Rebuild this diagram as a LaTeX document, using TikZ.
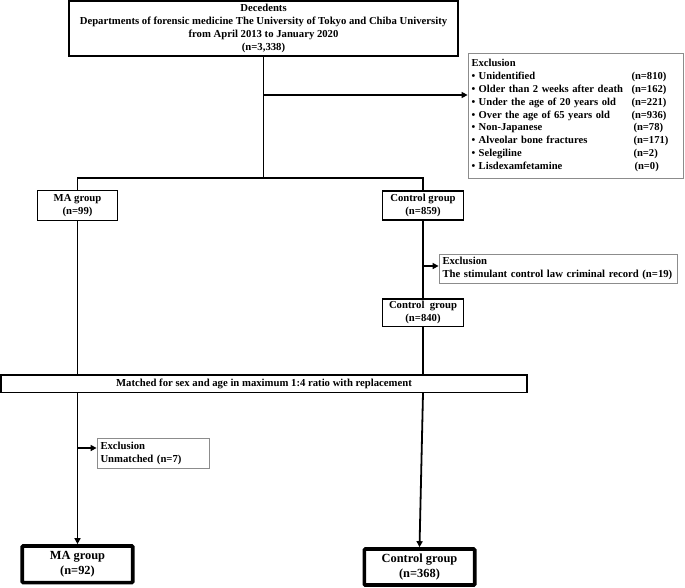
\documentclass[tikz,border=0pt]{standalone}
\usepackage{fontspec}
\setmainfont{Liberation Serif}
\usetikzlibrary{arrows.meta}
\tikzset{
  base/.style={rectangle, inner sep=0pt, font=\bfseries\fontsize{10.7}{13}\selectfont},
  mainbox/.style={base, draw=black, line width=1.3pt, align=center},
  exbox/.style={base, draw=black!45, line width=0.8pt, align=left, inner xsep=3.5pt},
  finalbox/.style={base, draw=black, line width=3.6pt, rounded corners=1pt, align=center, font=\bfseries\fontsize{12.4}{15}\selectfont},
  conn/.style={line width=1.8pt},
  arr/.style={line width=1.8pt, -{Triangle[length=6pt,width=6pt]}},
}
\begin{document}
\begin{tikzpicture}[x=1pt,y=-1pt]
\useasboundingbox (0,0) rectangle (685,587);

\node[mainbox, minimum width=389pt, minimum height=55pt] (top) at (263.5,28.5)
  {Decedents\\Departments of forensic medicine The University of Tokyo and Chiba University\\from April 2013 to January 2020\\(n=3,338)};

\node[exbox, text width=208pt, minimum height=125pt, font=\bfseries\fontsize{10.6}{12.9}\selectfont] (ex1) at (575.5,115.5)
  {Exclusion\\
   \makebox[160pt][l]{• Unidentified}(n=810)\\
   \makebox[160pt][l]{• Older than 2 weeks after death}(n=162)\\
   \makebox[160pt][l]{• Under the age of 20 years old}(n=221)\\
   \makebox[160pt][l]{• Over the age of 65 years old}(n=936)\\
   \makebox[162pt][l]{• Non-Japanese}(n=78)\\
   \makebox[162pt][l]{• Alveolar bone fractures}(n=171)\\
   \makebox[162pt][l]{• Selegiline}(n=2)\\
   \makebox[163pt][l]{• Lisdexamfetamine}(n=0)};

\node[mainbox, line width=1.1pt, minimum width=80.6pt, minimum height=30pt] (ma1) at (77.5,205.7) {MA group\\(n=99)};
\node[mainbox, line width=1.1pt, minimum width=81pt, minimum height=29pt] (c1) at (423,205.5) {Control group\\(n=859)};

\node[exbox, text width=231pt, minimum height=29pt] (ex2) at (558,268.5)
  {Exclusion\\The stimulant control law criminal record (n=19)};

\node[mainbox, line width=1.1pt, minimum width=80.6pt, minimum height=27.7pt] (c2) at (423,312.8) {Control\ \ group\\(n=840)};

\node[mainbox, line width=1.3pt, minimum width=526pt, minimum height=17.3pt] (matched) at (264,383.7)
  {Matched for sex and age in maximum 1:4 ratio with replacement};

\node[exbox, text width=105.6pt, minimum height=29.6pt] (ex3) at (153.3,453.5)
  {Exclusion\\Unmatched (n=7)};

\node[finalbox, minimum width=110.5pt, minimum height=36.7pt] (maf) at (77.5,564.3) {MA group\\(n=92)};
\node[finalbox, minimum width=110.4pt, minimum height=36pt] (cf) at (419.5,567) {Control group\\(n=368)};

% connectors
\coordinate (split) at (263.5,178);
\coordinate (b1) at (263.5,95);
\coordinate (b2) at (423,266);
\coordinate (b3) at (77.5,448);

\draw[conn] (top.south) -- (split);
\draw[conn] (ma1.north) |- (split) -| (c1.north);
\draw[arr] (b1) -- (b1 -| ex1.west);

\draw[conn] (c1.south) -- (c2.north);
\draw[arr] (b2) -- (b2 -| ex2.west);

\draw[conn] (ma1.south) -- (ma1.south |- matched.north);
\draw[conn] (c2.south) -- (c2.south |- matched.north);

\draw[arr] (ma1.south |- matched.south) -- (maf.north);
\draw[arr] (b3) -- (b3 -| ex3.west);
\draw[arr] (c2.south |- matched.south) -- (cf.north);
\end{tikzpicture}
\end{document}
